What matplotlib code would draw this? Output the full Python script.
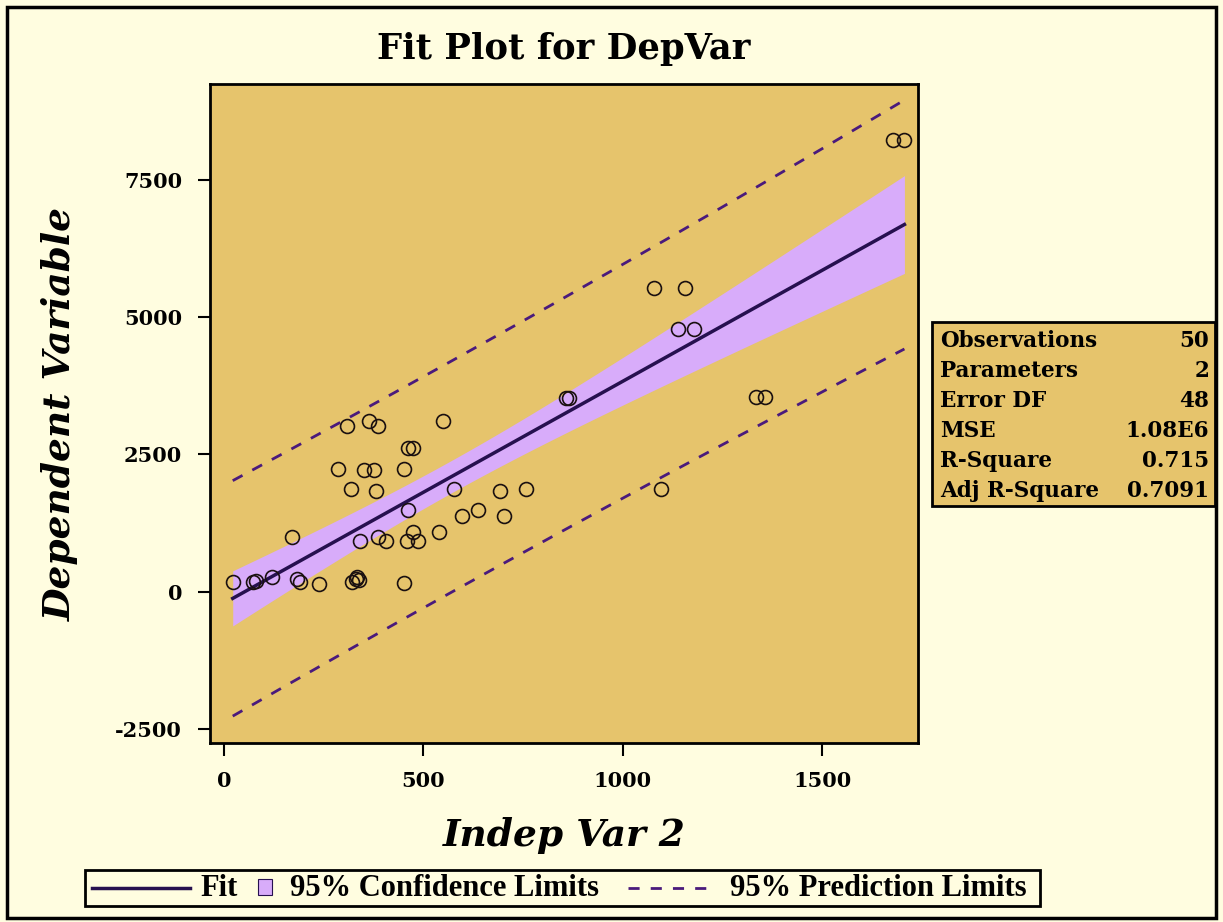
import numpy as np
import matplotlib.pyplot as plt
from matplotlib.patches import Rectangle
from matplotlib.lines import Line2D

# observations
indep = [22, 73, 80, 120, 182, 191, 238, 322, 333, 338, 330, 452,
         170, 341, 387, 406,
         308, 363, 386,
         285, 351, 376, 318, 381,
         452, 462, 473,
         549, 578, 691, 758,
         462, 598, 638, 703,
         539, 475, 460, 487,
         1079, 1157, 1138, 1179,
         1335, 1357,
         1677, 1706,
         1096,
         858, 866]
dep = [176, 176, 200, 273, 236, 187, 151, 180, 270, 210, 230, 158,
       1000, 921, 1000, 921,
       3018, 3109, 3018,
       2242, 2224, 2224, 1873, 1830,
       2242, 2623, 2623,
       3109, 1878, 1830, 1878,
       1485, 1388, 1485, 1388,
       1085, 1085, 921, 921,
       5533, 5533, 4776, 4776,
       3551, 3551,
       8230, 8230,
       1867,
       3521, 3521]

stat_names = ['Observations', 'Parameters', 'Error DF', 'MSE', 'R-Square', 'Adj R-Square']
stat_values = ['50', '2', '48', '1.08E6', '0.715', '0.7091']
legend_labels = ['Fit', '95% Confidence Limits', '95% Prediction Limits']
t_crit = 2.0106  # t(0.975, 48)

x = np.array(indep, dtype=float)
y = np.array(dep, dtype=float)
n = len(x)
slope, icpt = np.polyfit(x, y, 1)
resid = y - (icpt + slope * x)
s = np.sqrt(np.sum(resid**2) / (n - 2))
xx = np.linspace(x.min(), x.max(), 200)
fit = icpt + slope * xx
lev = 1.0 / n + (xx - x.mean())**2 / np.sum((x - x.mean())**2)
ci = t_crit * s * np.sqrt(lev)
pi = t_crit * s * np.sqrt(1 + lev)

cream = '#fffde0'
gold = '#e6c46c'
band = '#d8acfa'
navy = '#26104f'
purple = '#4a1a7c'
dash = (0, (4, 4))

plt.rcParams['font.family'] = 'DejaVu Serif'
plt.rcParams['axes.unicode_minus'] = False
W, H = 1223.0, 922.0
fig = plt.figure(figsize=(W / 100, H / 100), dpi=100, facecolor=cream)
ax = fig.add_axes([0.1717, 0.1941, 0.5789, 0.7148])
ax.set_facecolor(gold)

ax.fill_between(xx, fit - ci, fit + ci, color=band, lw=0, zorder=1)
ax.plot(xx, fit, color=navy, lw=2.5, zorder=3)
ax.plot(xx, fit + pi, color=purple, lw=2, ls=dash, zorder=3)
ax.plot(xx, fit - pi, color=purple, lw=2, ls=dash, zorder=3)
ax.plot(x, y, 'o', mfc='none', mec='#1a1010', ms=10, mew=1.2, zorder=4)

ax.set_xlim(-35, 1740)
ax.set_ylim(-2750, 9240)
ax.set_xticks([0, 500, 1000, 1500])
ax.set_yticks([-2500, 0, 2500, 5000, 7500])
ax.tick_params(length=9, width=1.5, labelsize=15, pad=11)
for lab in ax.get_xticklabels() + ax.get_yticklabels():
    lab.set_fontweight('bold')
for sp_ in ax.spines.values():
    sp_.set_linewidth(2)

ax.set_title('Fit Plot for DepVar', fontsize=25.5, fontweight='bold', pad=18)
ax.set_xlabel('Indep Var 2', fontsize=27, fontweight='bold', style='italic', labelpad=19)
ax.set_ylabel('Dependent Variable', fontsize=27, fontweight='bold', style='italic', labelpad=26)

# outer frame
fig.patches.append(Rectangle((7 / W, 4 / H), 1209 / W, 911 / H, transform=fig.transFigure,
                             fill=False, ec='black', lw=2.5))

# statistics box
fig.patches.append(Rectangle((932 / W, 1 - 506 / H), 283 / W, 184 / H, transform=fig.transFigure,
                             fc=gold, ec='black', lw=2))
for i, (nm, vl) in enumerate(zip(stat_names, stat_values)):
    yy = 1 - (341 + 30 * i) / H
    fig.text(940 / W, yy, nm, fontsize=15.5, fontweight='bold', va='center', ha='left')
    fig.text(1209 / W, yy, vl, fontsize=15.5, fontweight='bold', va='center', ha='right')

# legend drawn by hand
ly = 1 - 888 / H
lfont = dict(family='Liberation Serif', weight='bold', size=22, va='center', ha='left')
fig.patches.append(Rectangle((85 / W, 1 - 906 / H), 955 / W, 36 / H, transform=fig.transFigure,
                             fc=cream, ec='black', lw=2))
fig.lines.append(Line2D([92 / W, 190 / W], [ly, ly], transform=fig.transFigure, color=navy, lw=2.5))
fig.text(200 / W, ly, legend_labels[0], **lfont)
fig.patches.append(Rectangle((258 / W, 1 - 895 / H), 14 / W, 16 / H, transform=fig.transFigure,
                             fc=band, ec=navy, lw=0.8))
fig.text(290 / W, ly, legend_labels[1], **lfont)
fig.lines.append(Line2D([628 / W, 716 / W], [ly, ly], transform=fig.transFigure, color=purple,
                        lw=2, ls=dash))
fig.text(730 / W, ly, legend_labels[2], **lfont)

fig.savefig('out.png', dpi=100, facecolor=cream)
